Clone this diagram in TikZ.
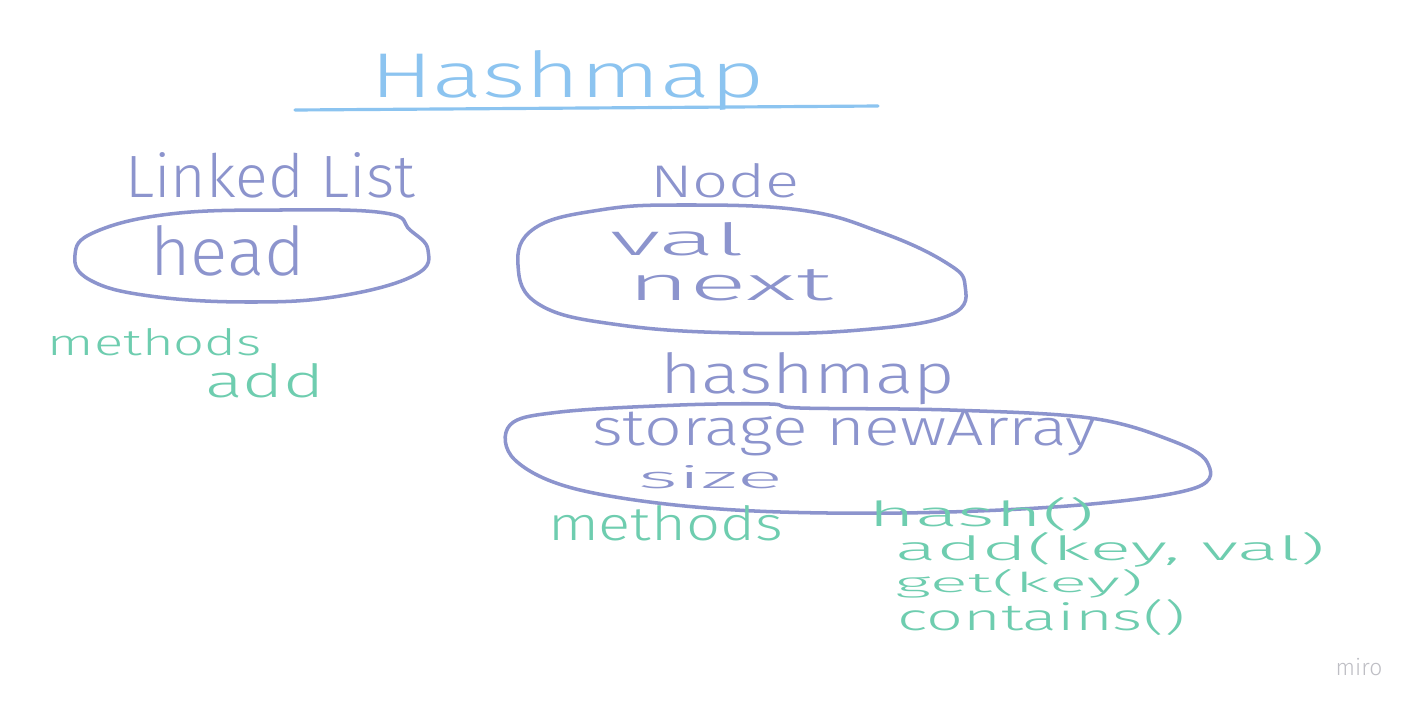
\documentclass[tikz,border=0pt]{standalone}
\usepackage{fontspec}
\usepackage{graphicx}
\setmainfont{Fira Sans Light}
\newlength\pxu
\setlength\pxu{0.2mm}
\newcommand\hw[3]{\resizebox{#1\pxu}{#2\pxu}{#3}}
\definecolor{tblue}{RGB}{140,196,240}
\definecolor{ink}{RGB}{140,148,205}
\definecolor{mint}{RGB}{110,205,175}
\definecolor{mirogray}{RGB}{190,190,196}
\tikzset{
  hand/.style={inner sep=0pt, outer sep=0pt, anchor=base west},
  loop/.style={draw=ink, line width=2pt, line cap=round, line join=round},
}
\begin{document}
\begin{tikzpicture}[x=0.02cm,y=-0.02cm]
\useasboundingbox[fill=white] (0,0) rectangle (1414,707);
% title
\node[hand, text=tblue] (title) at (370,97) {\hw{395}{47}{Hashmap}};
\coordinate (ulA) at (295,110);
\coordinate (ulB) at (878,106);
\draw[tblue, line width=1.8pt, line cap=round] (ulA) -- (ulB);
% Linked List
\node[hand, text=ink] (ll) at (125,197) {\hw{290}{45}{Linked List}};
\draw[loop] plot[smooth cycle, tension=0.7] coordinates {
  (385,213) (410,230) (428,250) (415,275) (340,296) (250,302) (150,296)
  (90,280) (75,255) (95,232) (170,214) (280,210)};
\node[hand, text=ink] (head) at (150,275) {\hw{155}{50}{head}};
% Node
\node[hand, text=ink] (nodet) at (650,197) {\hw{150}{34}{Node}};
\draw[loop] plot[smooth cycle, tension=0.7] coordinates {
  (680,205) (800,210) (880,232) (945,262) (965,285) (950,315) (860,330)
  (740,333) (620,325) (540,305) (518,265) (535,228) (600,210)};
\node[hand, text=ink] (val) at (610,255) {\hw{135}{33}{val}};
\node[hand, text=ink] (next) at (627,300) {\hw{206}{31}{next}};
% methods left
\node[hand, text=mint] (meth1) at (48,355) {\hw{214}{27}{methods}};
\node[hand, text=mint] (add1) at (205,397) {\hw{120}{34}{add}};
% hashmap
\node[hand, text=ink] (hm) at (660,393) {\hw{295}{41}{hashmap}};
\draw[loop] plot[smooth cycle, tension=0.6] coordinates {
  (770,404) (800,408) (950,410) (1090,418) (1170,440) (1207,462) (1195,488)
  (1080,505) (900,513) (720,509) (580,490) (515,460) (510,425) (560,412) (680,405)};
\node[hand, text=ink] (stor) at (592,445) {\hw{505}{35}{storage newArray}};
\node[hand, text=ink] (size) at (638,488) {\hw{145}{23}{size}};
% methods right
\node[hand, text=mint] (meth2) at (548,540) {\hw{235}{35}{methods}};
\node[hand, text=mint] (m1) at (868,526) {\hw{227}{29}{hash()}};
\node[hand, text=mint] (m2) at (895,560) {\hw{430}{28}{add(key, val)}};
\node[hand, text=mint] (m3) at (895,592) {\hw{248}{23}{get(key)}};
\node[hand, text=mint] (m4) at (897,630) {\hw{288}{31}{contains()}};
% logo
\node[inner sep=0pt, text=mirogray, font=\fontsize{13}{13}\selectfont] (miro) at (1359,667) {miro};
\end{tikzpicture}
\end{document}
